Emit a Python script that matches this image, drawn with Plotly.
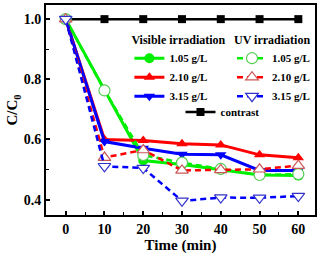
import plotly.graph_objects as go

time = [0, 10, 20, 30, 40, 50, 60]

vis_105 = [1.0, 0.765, 0.530, 0.517, 0.500, 0.482, 0.480]
vis_210 = [1.0, 0.600, 0.597, 0.586, 0.582, 0.549, 0.539]
vis_315 = [1.0, 0.593, 0.571, 0.551, 0.549, 0.497, 0.497]

uv_105 = [1.0, 0.763, 0.548, 0.523, 0.502, 0.482, 0.485]
uv_210 = [1.0, 0.540, 0.565, 0.497, 0.499, 0.501, 0.513]
uv_315 = [1.0, 0.511, 0.505, 0.396, 0.407, 0.406, 0.412]

contrast = [1.0, 1.0, 1.0, 1.0, 1.0, 1.0, 1.0]

labels = ["1.05 g/L", "2.10 g/L", "3.15 g/L"]
vis_colors = ["#00EE00", "#FF0000", "#0000FF"]
uv_line_colors = ["#00EE00", "#FF0000", "#0000FF"]
uv_marker_colors = ["#55CC55", "#CC5555", "#3333CC"]
vis_symbols = ["circle", "triangle-up", "triangle-down"]

FONT = "Liberation Serif"

fig = go.Figure()

fig.add_trace(go.Scatter(
    x=time, y=contrast, name="contrast", mode="lines+markers",
    line=dict(color="black", width=2.5),
    marker=dict(symbol="square", size=8, color="black"),
    legend="legend3",
))

for vals, lab, col, sym in zip([vis_105, vis_210, vis_315], labels, vis_colors, vis_symbols):
    fig.add_trace(go.Scatter(
        x=time, y=vals, name=lab, mode="lines+markers",
        line=dict(color=col, width=3),
        marker=dict(symbol=sym, size=10, color=col),
        legend="legend",
    ))

for vals, lab, lc, mc, sym in zip([uv_105, uv_210, uv_315], labels, uv_line_colors, uv_marker_colors, vis_symbols):
    fig.add_trace(go.Scatter(
        x=time, y=vals, name=lab, mode="lines+markers",
        line=dict(color=lc, width=2.5, dash="6px,4px"),
        marker=dict(symbol=sym, size=11, color="white", line=dict(color=mc, width=1.2)),
        legend="legend2",
    ))

axis_common = dict(
    showline=True, linecolor="black", linewidth=2, mirror=True,
    ticks="inside", ticklen=4, tickwidth=1.5, tickcolor="black",
    showgrid=False, zeroline=False, automargin=False,
    tickfont=dict(family=FONT, size=14, color="black", weight="bold"),
)

fig.update_xaxes(
    range=[-5.08, 64.3], tick0=0, dtick=10,
    minor=dict(ticks="inside", ticklen=3, dtick=5, tickcolor="black", tickwidth=1.2),
    title=dict(text="Time (min)", font=dict(family=FONT, size=15, color="black", weight="bold"), standoff=0),
    **axis_common,
)
fig.update_yaxes(
    range=[0.349, 1.047], tick0=0.4, dtick=0.2, tickformat=".1f",
    minor=dict(ticks="inside", ticklen=3, dtick=0.1, tickcolor="black", tickwidth=1.2),
    title=dict(text="C/C<sub>0</sub>", font=dict(family=FONT, size=15, color="black", weight="bold"), standoff=2),
    **axis_common,
)

leg_common = dict(
    bgcolor="rgba(0,0,0,0)", borderwidth=0,
    font=dict(family=FONT, size=11, color="black", weight="bold"),
    itemwidth=30, tracegroupgap=0,
    yanchor="top",
)
title_font = dict(family=FONT, size=12, color="black", weight="bold")

fig.update_layout(
    width=321, height=254,
    margin=dict(l=46, r=6, t=5, b=39),
    paper_bgcolor="white", plot_bgcolor="white",
    showlegend=True,
    legend=dict(x=0.31, y=0.89, xanchor="left", title=dict(text="Visible irradiation", font=title_font), **leg_common),
    legend2=dict(x=1.0, y=0.89, xanchor="right", title=dict(text="UV irradiation", font=title_font), **leg_common),
    legend3=dict(x=0.50, y=0.56, xanchor="left", **leg_common),
)

fig.write_html(
    "out.html",
    config={"displayModeBar": False},
    post_script="document.body.style.margin='0';document.body.style.overflow='hidden';",
)
